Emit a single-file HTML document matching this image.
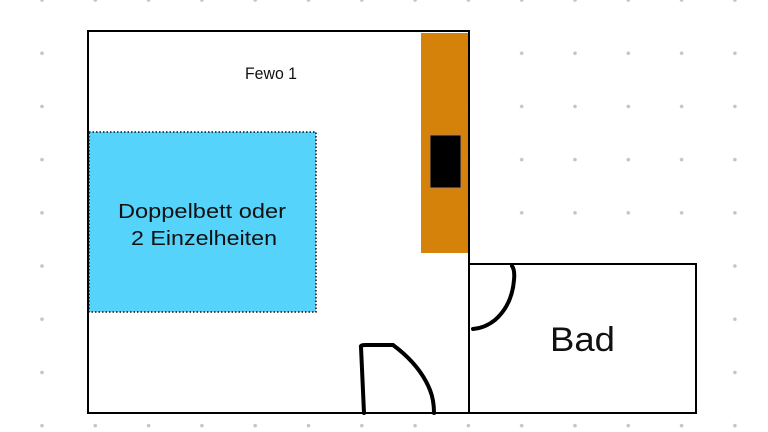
<!DOCTYPE html>
<html><head><meta charset="utf-8"><style>html,body{margin:0;padding:0;background:#fff}svg{display:block}</style></head>
<body>
<svg width="768" height="432" viewBox="0 0 768 432" xmlns="http://www.w3.org/2000/svg">
<defs><pattern id="d" x="42" y="0" width="53.3" height="53.2" patternUnits="userSpaceOnUse"><circle cx="0" cy="0" r="1.8" fill="#c4c4c4"/><circle cx="53.3" cy="0" r="1.8" fill="#c4c4c4"/><circle cx="0" cy="53.2" r="1.8" fill="#c4c4c4"/><circle cx="53.3" cy="53.2" r="1.8" fill="#c4c4c4"/></pattern></defs>
<rect x="0" y="0" width="768" height="432" fill="url(#d)"/>
<rect x="88" y="31" width="381" height="382" fill="#fff" stroke="#000" stroke-width="2"/>
<rect x="469" y="264" width="227" height="149" fill="#fff" stroke="#000" stroke-width="2"/>
<rect x="421" y="33" width="47" height="220" fill="#d4820a"/>
<rect x="430" y="135" width="31" height="53" fill="#000" stroke="#b08060" stroke-width="1"/>
<rect x="89" y="132" width="227" height="180" fill="#56d3fb" stroke="#111" stroke-width="1.5" stroke-dasharray="1.5 2"/>
<text x="118" y="218" textLength="168" lengthAdjust="spacingAndGlyphs" font-family="Liberation Sans, sans-serif" font-size="20" fill="#111">Doppelbett oder</text>
<text x="131" y="245" textLength="146" lengthAdjust="spacingAndGlyphs" font-family="Liberation Sans, sans-serif" font-size="20" fill="#111">2 Einzelheiten</text>
<text x="245" y="79" textLength="52" lengthAdjust="spacingAndGlyphs" font-family="Liberation Sans, sans-serif" font-size="17" fill="#111">Fewo 1</text>
<text x="550" y="351" textLength="65" lengthAdjust="spacingAndGlyphs" font-family="Liberation Sans, sans-serif" font-size="34" fill="#111">Bad</text>
<path d="M364 413 L361 347 Q360 345 366 345 L393 345 Q420 365 430 390 Q434 400 434 413" fill="none" stroke="#000" stroke-width="4" stroke-linecap="round"/>
<path d="M512 266 Q515 270 514 280 Q512 305 495 320 Q485 328 473 329" fill="none" stroke="#000" stroke-width="4" stroke-linecap="round"/>
</svg>
</body></html>
